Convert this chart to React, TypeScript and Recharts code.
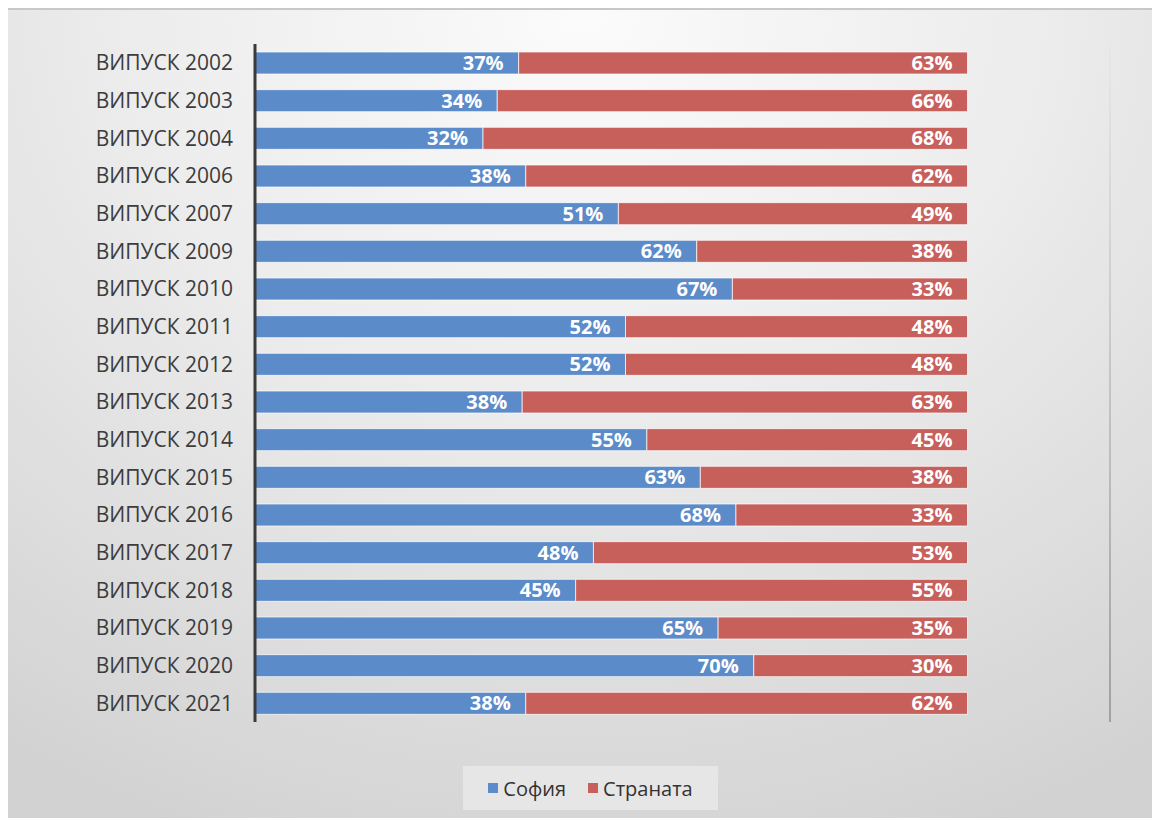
import { BarChart, Bar, XAxis, YAxis, CartesianGrid, Legend, LabelList } from 'recharts'

const YEARS = [
  'ВИПУСК 2002', 'ВИПУСК 2003', 'ВИПУСК 2004', 'ВИПУСК 2006', 'ВИПУСК 2007', 'ВИПУСК 2009',
  'ВИПУСК 2010', 'ВИПУСК 2011', 'ВИПУСК 2012', 'ВИПУСК 2013', 'ВИПУСК 2014', 'ВИПУСК 2015',
  'ВИПУСК 2016', 'ВИПУСК 2017', 'ВИПУСК 2018', 'ВИПУСК 2019', 'ВИПУСК 2020', 'ВИПУСК 2021',
]

const SOFIA = [0.37, 0.34, 0.32, 0.38, 0.51, 0.62, 0.67, 0.52, 0.52, 0.375, 0.55, 0.625, 0.675, 0.475, 0.45, 0.65, 0.7, 0.38]
const STRANA = [0.63, 0.66, 0.68, 0.62, 0.49, 0.38, 0.33, 0.48, 0.48, 0.625, 0.45, 0.375, 0.325, 0.525, 0.55, 0.35, 0.3, 0.62]

const X_TICKS = [0, 0.2, 0.4, 0.6, 0.8, 1.0, 1.2]

const SERIES = [
  { key: 'sofia', name: 'София', color: '#5B8BC9' },
  { key: 'strana', name: 'Страната', color: '#C75F5B' },
]

const data = YEARS.map((name, i) => ({ name, sofia: SOFIA[i], strana: STRANA[i] }))

const FONT = '"Open Sans", "Noto Sans", sans-serif'

const pct = (v: any) => `${Math.round(Number(v) * 100 + 1e-9)}%`

function LegendBox() {
  return (
    <div
      style={{
        display: 'flex',
        justifyContent: 'center',
        alignItems: 'center',
        gap: 22,
        height: 44,
        background: 'rgba(235,235,235,0.75)',
        fontFamily: FONT,
        fontSize: 20,
        color: '#333333',
      }}
    >
      {SERIES.map(s => (
        <div key={s.key} style={{ display: 'flex', alignItems: 'center' }}>
          <span style={{ width: 10, height: 10, background: s.color, display: 'inline-block', marginRight: 5 }} />
          <span>{s.name}</span>
        </div>
      ))}
    </div>
  )
}

export default function App() {
  return (
    <div
      style={{
        position: 'relative',
        width: 1150,
        height: 810,
        background: 'radial-gradient(ellipse 90% 110% at 50% 0%, #fbfbfb 0%, #ececec 45%, #d2d2d2 100%)',
        borderTop: '2px solid #c8c8c8',
        boxSizing: 'border-box',
      }}
    >
      <svg width={0} height={0} style={{ position: 'absolute' }}>
        <defs>
          <linearGradient id="gridGrad" gradientUnits="userSpaceOnUse" x1="0" y1="36" x2="0" y2="712">
            <stop offset="0%" stopColor="#e6e6e6" />
            <stop offset="100%" stopColor="#8f8f8f" />
          </linearGradient>
        </defs>
      </svg>
      <BarChart
        width={1150}
        height={808}
        data={data}
        layout="vertical"
        margin={{ top: 34, right: 48, bottom: 52, left: 0 }}
        barSize={22}
      >
        <CartesianGrid horizontal={false} stroke="url(#gridGrad)" strokeWidth={1.5} />
        <XAxis
          type="number"
          domain={[0, 1.2]}
          ticks={X_TICKS}
          tick={false}
          axisLine={false}
          tickLine={false}
          height={0}
        />
        <YAxis
          type="category"
          dataKey="name"
          width={247}
          axisLine={{ stroke: '#3a3a3a', strokeWidth: 3 }}
          tickLine={false}
          tickSize={0}
          tickMargin={22}
          tick={{ fill: '#3c3c3c', fontSize: 21, fontFamily: FONT }}
          interval={0}
        />
        {SERIES.map(s => (
          <Bar
            key={s.key}
            dataKey={s.key}
            name={s.name}
            stackId="a"
            fill={s.color}
            stroke="rgba(255,255,255,0.7)"
            strokeWidth={1}
            isAnimationActive={false}
          >
            <LabelList
              dataKey={s.key}
              position="insideRight"
              offset={15}
              formatter={pct}
              fill="#ffffff"
              style={{ fontFamily: FONT, fontSize: 20, fontWeight: 700 }}
            />
          </Bar>
        ))}
        <Legend
          content={() => <LegendBox />}
          wrapperStyle={{ position: 'absolute', left: 455, top: 756, width: 255 }}
        />
      </BarChart>
    </div>
  )
}
